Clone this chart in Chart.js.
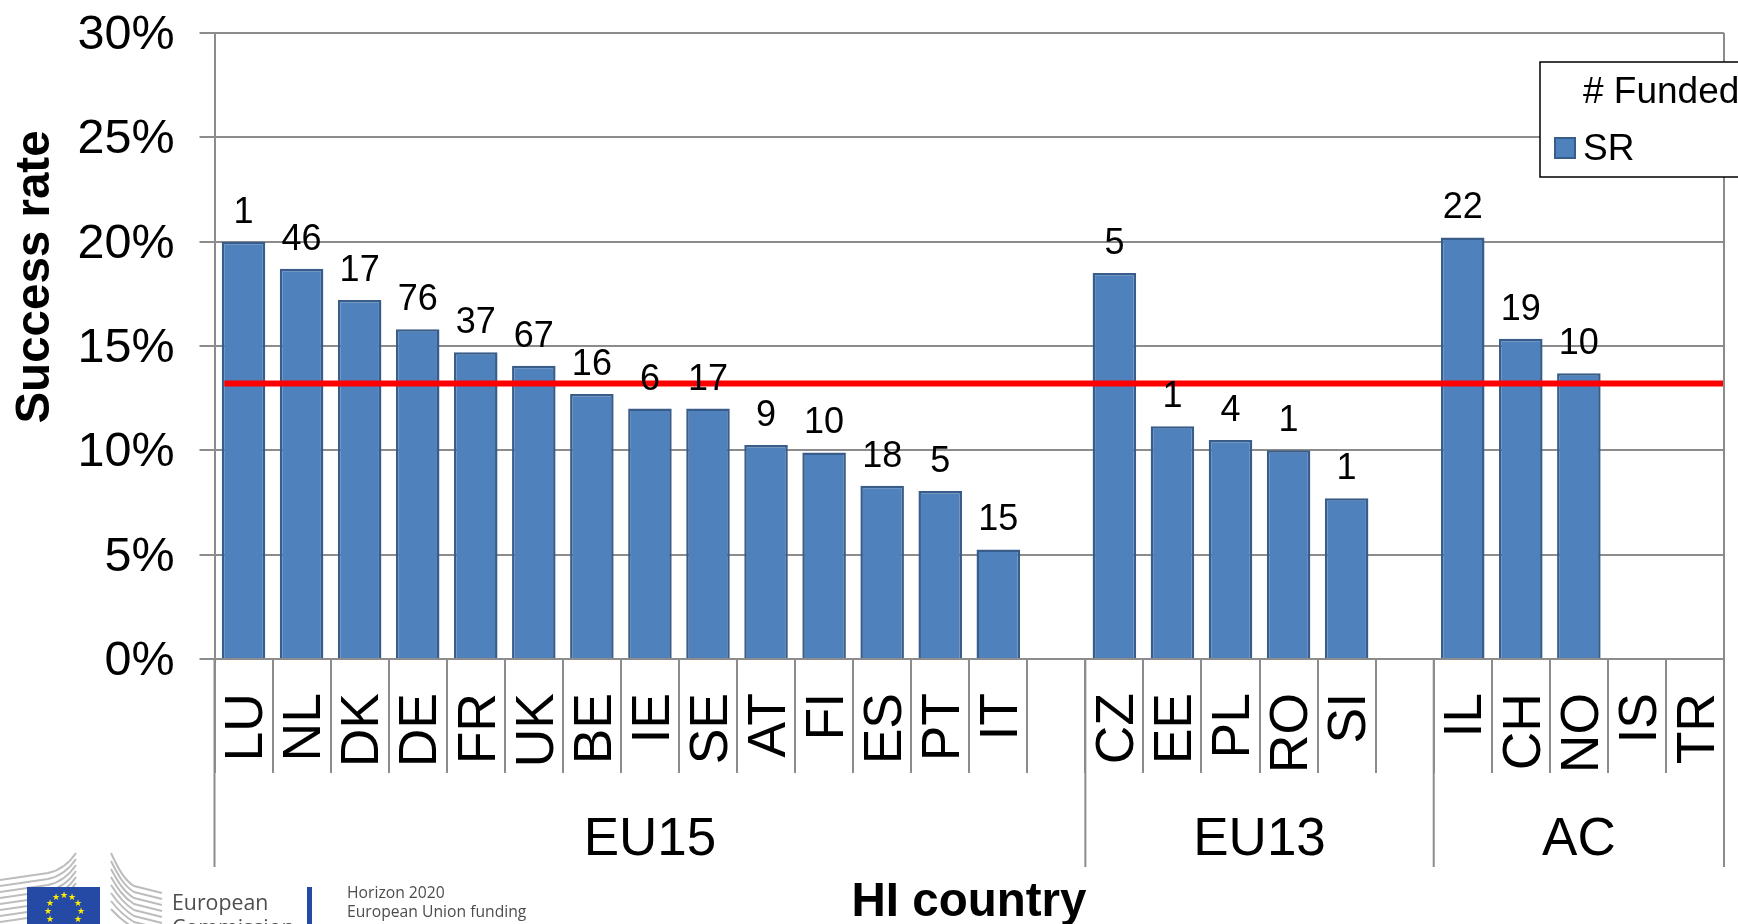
<!DOCTYPE html>
<html>
<head>
<meta charset="utf-8">
<style>
  html, body { margin: 0; padding: 0; background: #fff; overflow: hidden; }
  #wrap { position: relative; width: 1738px; height: 924px; overflow: hidden; }
  #wrap canvas { position: absolute; left: 0; top: 0; }
  #logo { position: absolute; left: 0; top: 0; }
</style>
</head>
<body>
<div id="wrap">
  <canvas id="srChart" width="1738" height="924"></canvas>
  <svg id="logo" width="1738" height="924" font-family="'Open Sans'">
    <g id="curves" fill="none" stroke="#bdbdbd" stroke-width="2"></g>
    <rect x="27" y="887" width="73" height="37" fill="#254aa5"/>
    <g fill="#ffed00" font-size="9" text-anchor="middle">
      <text x="64" y="898">★</text><text x="56" y="900">★</text><text x="72" y="900">★</text>
      <text x="50" y="906">★</text><text x="78" y="906">★</text>
      <text x="47.500" y="914">★</text><text x="80.500" y="914">★</text>
      <text x="50" y="922">★</text><text x="78" y="922">★</text>
    </g>
    <rect x="307" y="887" width="5" height="37" fill="#254aa5"/>
    <text x="172" y="910" font-size="21.300" fill="#4d4d4d">European</text>
    <text x="172" y="935" font-size="21.300" fill="#4d4d4d">Commission</text>
    <text x="347" y="898" font-size="15.700" fill="#4d4d4d">Horizon 2020</text>
    <text x="347" y="917" font-size="15.700" fill="#4d4d4d">European Union funding</text>
  </svg>
</div>
<script src="https://cdn.jsdelivr.net/npm/chart.js@4/dist/chart.umd.min.js"></script>
<script>
var countries = ['LU','NL','DK','DE','FR','UK','BE','IE','SE','AT','FI','ES','PT','IT','',
                 'CZ','EE','PL','RO','SI','',
                 'IL','CH','NO','IS','TR'];
var successRate = [20.0,18.7,17.2,15.8,14.7,14.05,12.7,12.0,12.0,10.25,9.9,8.3,8.05,5.25,null,
                   18.5,11.15,10.5,10.0,7.7,null,
                   20.2,15.35,13.7,null,null];
var funded = [1,46,17,76,37,67,16,6,17,9,10,18,5,15,null,
              5,1,4,1,1,null,
              22,19,10,null,null];
var groupNames = ['EU15','EU13','AC'];
var groupSizes = [15,6,5];
var averageRate = [13.2,13.2];
var averageSpan = [0.17,26.02];
var yTicks = [0,5,10,15,20,25,30];

var gridColor = '#8c8c8c';
var sansFont = "'Liberation Sans', Arial, sans-serif";

// the building logo lines behind the flag
var curves = '';
for (var i = 0; i < 8; i++) {
    curves += '<path d="M0 ' + (880 + i * 6) + ' L48 ' + (873 + i * 6) + ' C62 ' + (870 + i * 6) + ' 70 ' + (862 + i * 6) + ' 76 ' + (853 + i * 6) + '"/>';
    curves += '<path d="M111 ' + (853 + i * 8) + ' C118 ' + (868 + i * 7) + ' 124 ' + (880 + i * 6) + ' 134 ' + (886 + i * 6) + ' L162 ' + (893 + i * 6) + '"/>';
}
document.getElementById('curves').innerHTML = curves;

// funded counts, group row, axis titles, legend box
var extras = {
    id: 'extras',
    afterDatasetsDraw: function (chart) {
        var c = chart.ctx, x = chart.scales.x, y = chart.scales.y, area = chart.chartArea;
        var step = x.getPixelForValue(1) - x.getPixelForValue(0);
        c.save();
        c.fillStyle = '#000';
        c.textAlign = 'center';
        c.textBaseline = 'middle';

        c.font = '36px ' + sansFont;
        funded.forEach(function (n, i) {
            if (n === null) return;
            c.fillText(n, x.getPixelForValue(i), y.getPixelForValue(successRate[i]) - 29);
        });

        // group separators and names below the country row
        c.strokeStyle = gridColor;
        c.lineWidth = 2;
        var start = 0;
        c.font = '53px ' + sansFont;
        groupNames.forEach(function (name, g) {
            var left = x.getPixelForValue(start) - step / 2;
            var right = x.getPixelForValue(start + groupSizes[g]) - step / 2;
            c.beginPath();
            c.moveTo(left, area.bottom);
            c.lineTo(left, 867);
            c.stroke();
            c.fillText(name, (left + right) / 2, 840);
            start += groupSizes[g];
        });

        // right edge of the plot frame
        c.beginPath();
        c.moveTo(area.right, area.top);
        c.lineTo(area.right, 867);
        c.stroke();

        // y title sits off centre in the reference
        c.save();
        c.translate(36, 277);
        c.rotate(-Math.PI / 2);
        c.font = 'bold 47.500px ' + sansFont;
        c.fillText('Success rate', 0, 0);
        c.restore();

        c.font = 'bold 47.500px ' + sansFont;
        c.fillText('HI country', 969, 903);

        // legend, runs off the right edge like the source
        c.lineWidth = 1.5;
        c.fillStyle = '#fff';
        c.fillRect(1540, 62, 220, 115);
        c.strokeStyle = '#000';
        c.strokeRect(1540, 62, 220, 115);
        c.lineWidth = 2;
        c.fillStyle = '#4f81bd';
        c.fillRect(1555, 138, 20, 20);
        c.strokeStyle = '#385d8a';
        c.strokeRect(1555, 138, 20, 20);
        c.fillStyle = '#000';
        c.textAlign = 'left';
        c.font = '37px ' + sansFont;
        c.fillText('# Funded', 1583, 93);
        c.fillText('SR', 1583, 150);
        c.restore();
    }
};

new Chart(document.getElementById('srChart').getContext('2d'), {
    data: {
        labels: countries,
        datasets: [{
            type: 'line',
            label: 'Average',
            data: [{x: averageSpan[0], y: averageRate[0]}, {x: averageSpan[1], y: averageRate[1]}],
            xAxisID: 'xLine',
            borderColor: '#ff0000',
            borderWidth: 6,
            pointRadius: 0,
            order: 0
        }, {
            type: 'bar',
            label: 'SR',
            data: successRate,
            backgroundColor: '#4f81bd',
            borderColor: '#385d8a',
            borderWidth: 2.500,
            barPercentage: 0.75,
            categoryPercentage: 1,
            grouped: false,
            order: 1
        }]
    },
    options: {
        responsive: false,
        animation: false,
        layout: { padding: { left: 0, top: 33, right: 14, bottom: 0 } },
        plugins: { legend: { display: false }, tooltip: { enabled: false }, title: { display: false } },
        scales: {
            x: {
                grid: { drawOnChartArea: false, color: gridColor, lineWidth: 2, tickLength: 114, tickColor: gridColor },
                border: { color: gridColor, width: 2 },
                ticks: { autoSkip: false, minRotation: 90, maxRotation: 90, padding: -80, labelOffset: 4, color: '#000',
                          font: { family: sansFont, size: 53.500 } },
                afterFit: function (scale) { scale.height = 265; scale.paddingLeft = 0; scale.paddingRight = 0; }
            },
            xLine: { type: 'linear', display: false, min: 0, max: 26 },
            y: {
                min: 0,
                max: 30,
                afterBuildTicks: function (scale) {
                    scale.ticks = yTicks.map(function (v) { return { value: v }; });
                },
                grid: { color: gridColor, lineWidth: 2, tickLength: 15, tickColor: gridColor },
                border: { color: gridColor, width: 2 },
                ticks: { padding: 25, labelOffset: 2.500, color: '#000', font: { family: sansFont, size: 48.500 },
                         callback: function (v) { return v + '%'; } },
                afterFit: function (scale) { scale.width = 214.500; scale.paddingTop = 0; scale.paddingBottom = 0; }
            }
        }
    },
    plugins: [extras]
});
</script>
</body>
</html>
